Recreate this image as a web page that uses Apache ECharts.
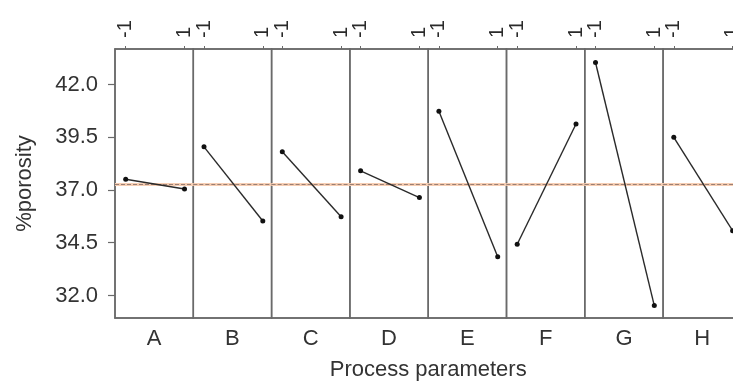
<!DOCTYPE html>
<html>
<head>
<meta charset="utf-8">
<script src="https://cdn.jsdelivr.net/npm/echarts@6/dist/echarts.min.js"></script>
<style>html,body{margin:0;padding:0;background:#fff}#c{width:733px;height:384px}</style>
</head>
<body>
<div id="c"></div>
<script>
const factors = ['A','B','C','D','E','F','G','H'];
const levels = [-1, 1];
const lowValues  = [37.51, 39.05, 38.82, 37.91, 40.74, 34.43, 43.05, 39.50];
const highValues = [37.05, 35.53, 35.73, 36.64, 33.84, 40.13, 31.52, 35.07];
const meanValue = 37.29;
const yTicks = [32.0, 34.5, 37.0, 39.5, 42.0];

const FONT = 'Liberation Sans';
const TXT = '#333';
const AX = '#6a6a6a';
const gLeft0 = 115, gPw = 78.3, gTop = 49, gHeight = 269;

const grid = [], xAxis = [], yAxis = [], series = [];
factors.forEach((f, i) => {
  grid.push({left: gLeft0 + i * gPw, top: gTop, width: gPw, height: gHeight,
    outerBoundsMode: 'none', containLabel: false,
    show: true, borderColor: AX, borderWidth: 1.5, backgroundColor: 'transparent'});
  xAxis.push({
    type: 'value', gridIndex: i, position: 'top', min: -1.364, max: 1.299,
    splitLine: {show: false},
    axisLine: {show: true, onZero: false, lineStyle: {color: AX, width: 1.5}},
    axisTick: {show: true, customValues: levels, length: 3, lineStyle: {color: AX}},
    axisLabel: {show: true, customValues: levels, rotate: -90, margin: 11,
      fontFamily: FONT, fontSize: 20, color: '#2a2a2a',
      formatter: v => (v < 0 ? '-1' : '1')}
  });
  xAxis.push({
    type: 'category', gridIndex: i, position: 'bottom', data: [f],
    axisLine: {show: true, onZero: false, lineStyle: {color: AX, width: 1.5}},
    axisTick: {show: false},
    axisLabel: {fontFamily: FONT, fontSize: 22, color: TXT, margin: 10}
  });
  yAxis.push({
    type: 'value', gridIndex: i, min: 30.93, max: 43.69,
    splitLine: {show: false},
    axisLine: {show: i === 0, onZero: false, lineStyle: {color: AX, width: 1.5}},
    axisTick: {show: i === 0, customValues: yTicks, length: 7, lineStyle: {color: AX, width: 1.2}},
    axisLabel: {show: i === 0, customValues: yTicks, margin: 17,
      fontFamily: FONT, fontSize: 22, color: TXT, formatter: v => v.toFixed(1)},
    name: i === 0 ? '%porosity' : '', nameLocation: 'middle', nameGap: 79,
    nameTextStyle: {fontFamily: FONT, fontSize: 22, color: TXT}
  });
  series.push({
    type: 'line', xAxisIndex: 2 * i, yAxisIndex: i,
    data: [[levels[0], lowValues[i]], [levels[1], highValues[i]]],
    symbol: 'circle', symbolSize: 5,
    lineStyle: {color: '#2a2a2a', width: 1.4},
    itemStyle: {color: '#111'},
    animation: false, silent: true,
    markLine: {
      silent: true, symbol: 'none', animation: false,
      label: {show: false},
      data: [
        {yAxis: meanValue, lineStyle: {color: '#f6cdb2', width: 3, type: 'solid'}},
        {yAxis: meanValue, lineStyle: {color: '#9a7f74', width: 1, type: [4, 2]}}
      ]
    },
    z: 5
  });
});

const chart = echarts.init(document.getElementById('c'), null, {renderer: 'canvas'});
chart.setOption({
  backgroundColor: '#fff',
  animation: false,
  graphic: [{type: 'text', x: gLeft0 + 4 * gPw, y: 370,
    style: {text: 'Process parameters', fontFamily: FONT, fontSize: 22, fill: TXT,
      textAlign: 'center', textVerticalAlign: 'middle'}}],
  grid, xAxis, yAxis, series
});
</script>
</body>
</html>
